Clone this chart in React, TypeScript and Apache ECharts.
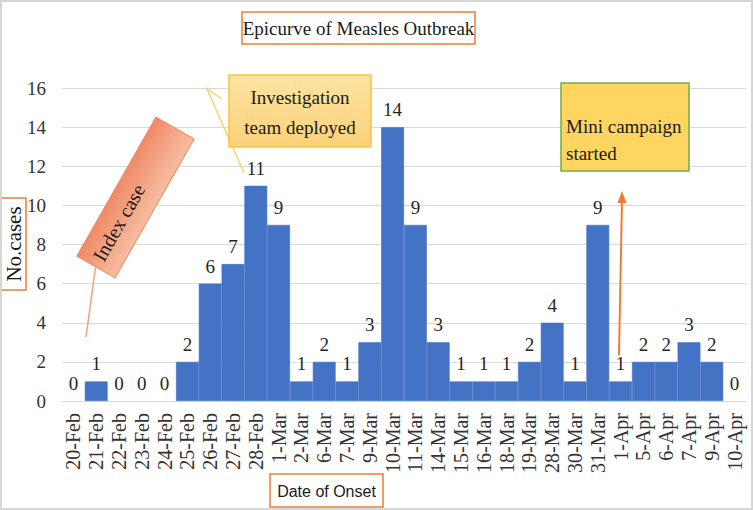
import React, { useEffect, useRef } from "react";
import * as echarts from "echarts";

const categories = [
  "20-Feb", "21-Feb", "22-Feb", "23-Feb", "24-Feb", "25-Feb", "26-Feb", "27-Feb", "28-Feb",
  "1-Mar", "2-Mar", "6-Mar", "7-Mar", "9-Mar", "10-Mar", "11-Mar", "14-Mar", "15-Mar",
  "16-Mar", "18-Mar", "19-Mar", "28-Mar", "30-Mar", "31-Mar", "1-Apr", "5-Apr", "6-Apr",
  "7-Apr", "9-Apr", "10-Apr",
];
const cases = [0, 1, 0, 0, 0, 2, 6, 7, 11, 9, 1, 2, 1, 3, 14, 9, 3, 1, 1, 1, 2, 4, 1, 9, 1, 2, 2, 3, 2, 0];

const titleText = "Epicurve of Measles Outbreak";
const yAxisTitle = "No.cases";
const xAxisTitle = "Date of Onset";
const noteIndex = "Index case";
const noteTeam = "Investigation\nteam deployed";
const noteCampaign = "Mini campaign\nstarted";

const SERIF = "'Liberation Serif', 'Times New Roman', serif";

export default function App() {
  const ref = useRef<HTMLDivElement>(null);

  useEffect(() => {
    document.body.style.margin = "0";
    document.body.style.overflow = "hidden";
    const chart = echarts.init(ref.current!, null, { renderer: "svg" });

    const txt = (x: number, y: number, text: string, size: number, extra: any = {}) => ({
      type: "text",
      x,
      y,
      style: {
        text,
        fontFamily: SERIF,
        fontSize: size,
        fill: "#1a1a1a",
        align: "center",
        verticalAlign: "middle",
        textAlign: "center",
        textVerticalAlign: "middle",
        ...extra,
      },
    });

    const elements: any[] = [
      // title box
      {
        type: "rect",
        shape: { x: 242, y: 12, width: 233, height: 32 },
        style: { fill: "#ffffff", stroke: "#ed7d31", lineWidth: 1.5 },
      },
      txt(358.5, 28.5, titleText, 19),
      // y axis title box
      {
        type: "rect",
        shape: { x: -5, y: 198, width: 31, height: 92 },
        style: { fill: "#ffffff", stroke: "#ed7d31", lineWidth: 1.5 },
      },
      {
        ...txt(14, 244, yAxisTitle, 21),
        rotation: Math.PI / 2,
      },
      // x axis title box
      {
        type: "rect",
        shape: { x: 270, y: 474, width: 113, height: 33 },
        style: { fill: "#ffffff", stroke: "#ed7d31", lineWidth: 1.5 },
      },
      txt(326.5, 491, xAxisTitle, 16, { fontFamily: "'Liberation Sans', Arial, sans-serif" }),
      // index case leader line
      {
        type: "line",
        shape: { x1: 95.5, y1: 267.5, x2: 86, y2: 337 },
        style: { stroke: "#f4a07a", lineWidth: 1.5 },
      },
      // index case rotated box
      {
        type: "group",
        x: 135.5,
        y: 197.5,
        rotation: (60.4 * Math.PI) / 180,
        children: [
          {
            type: "rect",
            z: 100,
            shape: { x: -80, y: -22, width: 160, height: 44 },
            style: {
              fill: new echarts.graphic.LinearGradient(0, 0, 0, 1, [
                { offset: 0, color: "#f08a66" },
                { offset: 1, color: "#f7bda2" },
              ]),
              stroke: "#ee8a60",
              lineWidth: 1,
            },
          },
          { ...txt(-30, -2, noteIndex, 20), z: 101 },
        ],
      },
      // investigation callout line
      {
        type: "polyline",
        shape: { points: [[222, 99], [207, 89], [244, 173]] },
        style: { fill: "none", stroke: "#f6d56a", lineWidth: 1.5 },
      },
      // investigation box
      {
        type: "rect",
        shape: { x: 229, y: 75, width: 142, height: 72 },
        style: {
          fill: new echarts.graphic.LinearGradient(0, 0, 0, 1, [
            { offset: 0, color: "#fde3a0" },
            { offset: 1, color: "#fbd27a" },
          ]),
          stroke: "#f8c446",
          lineWidth: 1.5,
        },
      },
      txt(300, 112, noteTeam, 19, { lineHeight: 30 }),
      // mini campaign box
      {
        type: "rect",
        shape: { x: 561, y: 83, width: 128, height: 88 },
        style: { fill: "#fdd560", stroke: "#70ad47", lineWidth: 1.5 },
      },
      txt(566, 140, noteCampaign, 19, {
        lineHeight: 27,
        align: "left",
        textAlign: "left",
      }),
      // orange arrow
      {
        type: "line",
        shape: { x1: 619, y1: 355, x2: 622, y2: 200 },
        style: { stroke: "#ed7d31", lineWidth: 2 },
      },
      {
        type: "polygon",
        shape: { points: [[622, 191], [617.5, 203], [626.5, 203]] },
        style: { fill: "#ed7d31" },
      },
    ];
    elements.forEach((el, i) => {
      if (el.z === undefined) el.z = 100 + i;
    });

    const barData = cases.map((v) => ({
      value: v,
      itemStyle: { borderWidth: v === 0 ? 0 : 0.6 },
    }));

    chart.setOption({
      animation: false,
      backgroundColor: "#ffffff",
      grid: { left: 62, right: 7, top: 88, bottom: 109, containLabel: false },
      xAxis: {
        type: "category",
        data: categories,
        axisTick: { show: false },
        axisLine: { lineStyle: { color: "#d9d9d9", width: 1 } },
        axisLabel: {
          rotate: 90,
          interval: 0,
          margin: 12,
          fontFamily: SERIF,
          fontSize: 20,
          color: "#333333",
        },
      },
      yAxis: {
        type: "value",
        min: 0,
        max: 16,
        interval: 2,
        axisLine: { show: false },
        axisTick: { show: false },
        splitLine: { lineStyle: { color: "#d9d9d9", width: 1 } },
        axisLabel: { margin: 16, fontFamily: SERIF, fontSize: 19, color: "#333333" },
      },
      series: [
        {
          type: "bar",
          data: barData,
          barCategoryGap: "0%",
          itemStyle: { color: "#4472c4", borderColor: "#4472c4", borderWidth: 0.6 },
          label: {
            show: true,
            position: "top",
            distance: 8,
            fontFamily: SERIF,
            fontSize: 19,
            color: "#262626",
          },
        },
      ],
      graphic: [
        {
          type: "rect",
          z: 200,
          shape: { x: 1, y: 1, width: 751, height: 508 },
          style: { fill: "none", stroke: "#d6d6d6", lineWidth: 2 },
          silent: true,
        },
        ...elements,
      ],
    });

    return () => chart.dispose();
  }, []);

  return (
    <div
      ref={ref}
      style={{ position: "absolute", left: 0, top: 0, width: 753, height: 510 }}
    />
  );
}
